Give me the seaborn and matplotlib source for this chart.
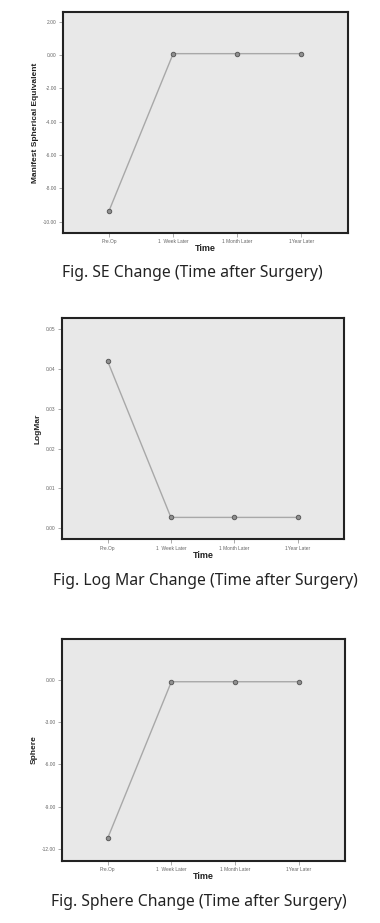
import matplotlib
matplotlib.use("Agg")
import matplotlib.pyplot as plt
import seaborn as sns
import pandas as pd

sns.set_theme(style="white")
plt.rcParams['font.family'] = ['Liberation Sans', 'DejaVu Sans']

times = ["Pre.Op", "1  Week Later", "1 Month Later", "1Year Later"]
se_values = [-9.34, 0.08, 0.08, 0.08]
logmar_values = [0.042, 0.0027, 0.0027, 0.0027]
sphere_values = [-11.24, -0.12, -0.12, -0.12]

se_ticks = [2, 0, -2, -4, -6, -8, -10]
logmar_ticks = [0.00, 0.01, 0.02, 0.03, 0.04, 0.05]
sphere_ticks = [0, -3, -6, -9, -12]

panels = [
    dict(vals=se_values, ticks=se_ticks, ylabel="Manifest Spherical Equivalent",
         ylim=(-10.68, 2.58), rect=[0.1658, 0.7476, 0.750, 0.2394],
         caption="Fig. SE Change (Time after Surgery)", cap_y=1 - 273 / 923, cap_x=62 / 380),
    dict(vals=logmar_values, ticks=logmar_ticks, ylabel="LogMar",
         ylim=(-0.0028, 0.0527), rect=[0.163, 0.4157, 0.742, 0.2394],
         caption="Fig. Log Mar Change (Time after Surgery)", cap_y=1 - 581 / 923, cap_x=53 / 380),
    dict(vals=sphere_values, ticks=sphere_ticks, ylabel="Sphere",
         ylim=(-12.85, 2.9), rect=[0.163, 0.0675, 0.745, 0.2399],
         caption="Fig. Sphere Change (Time after Surgery)", cap_y=1 - 902 / 923, cap_x=51 / 380),
]

fig = plt.figure(figsize=(3.8, 9.23), dpi=100)

for p in panels:
    ax = fig.add_axes(p["rect"])
    df = pd.DataFrame({"Time": times, "Value": p["vals"]})
    sns.pointplot(data=df, x="Time", y="Value", ax=ax, color="#a8a8a8",
                  markers="o", markersize=3.2, linewidth=1.0, errorbar=None)
    for line in ax.lines:
        line.set_markeredgecolor("#5a5a5a")
        line.set_markerfacecolor("#909090")
        line.set_markeredgewidth(0.7)
    ax.set_facecolor("#e8e8e8")
    ax.set_xlim(-0.72, 3.73)
    ax.set_ylim(*p["ylim"])
    ax.set_yticks(p["ticks"])
    ax.set_yticklabels([f"{t:.2f}" for t in p["ticks"]], fontsize=3.5, color="#666666")
    ax.set_xticks(range(len(times)))
    ax.set_xticklabels(times, fontsize=3.5, color="#666666")
    ax.tick_params(axis="both", which="both", length=3, width=0.5, color="#888888",
                   pad=1.5, direction="out", bottom=True, left=True)
    for s in ax.spines.values():
        s.set_color("#222222")
        s.set_linewidth(1.5)
    ax.set_xlabel("Time", fontsize=6.5, fontweight="bold", labelpad=0, color="#222222")
    ax.set_ylabel(p["ylabel"], fontsize=6, fontweight="bold", labelpad=3, color="#222222")
    fig.text(p["cap_x"], p["cap_y"], p["caption"], fontsize=11.3, ha="left", va="center",
             family=["Noto Sans", "DejaVu Sans"], color="#222222")

fig.savefig("out.png", dpi=100)
